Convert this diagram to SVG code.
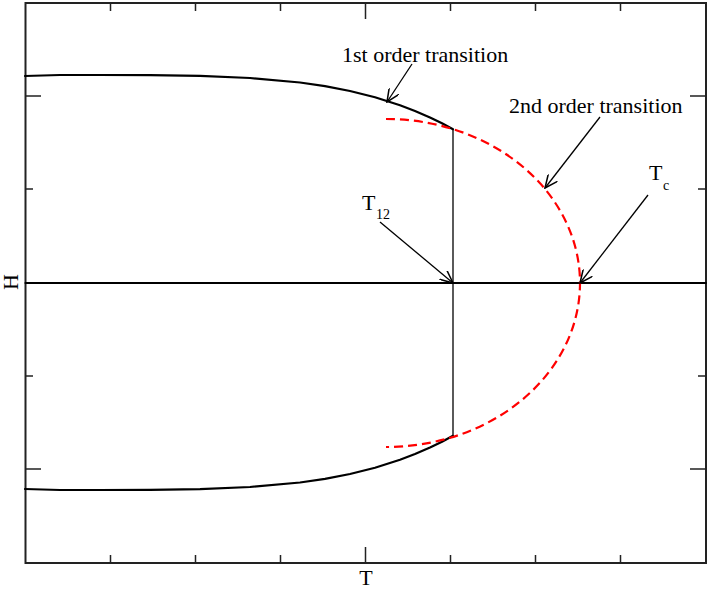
<svg xmlns="http://www.w3.org/2000/svg" width="708" height="589" viewBox="0 0 708 589">
<style>
.frame{fill:none;stroke:#222;stroke-width:2}
.tick{stroke:#222;stroke-width:1.5}
.curve{fill:none;stroke:#000;stroke-width:2.2;stroke-linejoin:round;stroke-linecap:round}
.thin{stroke:#000;stroke-width:1.3}
.red{fill:none;stroke:#f00;stroke-width:2.2;stroke-dasharray:9,5}
.arrow{stroke:#000;stroke-width:1.3;fill:none;marker-end:url(#ah)}
.lbl{font-family:"Liberation Serif","Times New Roman",serif;font-size:22px;fill:#000}
.sub{font-family:"Liberation Serif","Times New Roman",serif;font-size:14px;fill:#000}
</style>
<defs>
<marker id="ah" markerUnits="userSpaceOnUse" markerWidth="14" markerHeight="12" refX="11" refY="5" orient="auto" viewBox="0 0 12 10">
<path d="M0,0 L11,5 L0,10" fill="none" stroke="#000" stroke-width="1.3"/>
</marker>
</defs>
<rect x="0" y="0" width="708" height="589" fill="#fff"/>
<g id="axes">
<rect class="frame" x="25.5" y="3" width="680.5" height="560"/>
<path class="tick" d="M365.5,563V547M110.5,563V555M195.5,563V555M280.5,563V555M450.5,563V555M535.5,563V555M620.5,563V555
M365.5,3V19M110.5,3V11M195.5,3V11M280.5,3V11M450.5,3V11M535.5,3V11M620.5,3V11
M25.5,96H41M25.5,469H41M25.5,189H33M25.5,376H33
M706,96H690M706,469H690M706,189H698M706,376H698"/>
<text class="lbl" x="366" y="585" text-anchor="middle">T</text>
<text class="lbl" transform="translate(18,282) rotate(-90)" text-anchor="middle">H</text>
</g>
<g id="curves">
<polyline class="curve" points="25,76 60,75 100,75 150,75.1 200,75.9 250,78 300,82.5 325,86.2 350,91 375,97.3 400,105.3 415,111 430,117.4 442,123.2 453,129.2"/>
<polyline class="curve" points="25,489 60,490 100,490 150,489.9 200,489.1 250,487 300,482.5 325,478.8 350,474 375,467.7 400,459.7 415,454 430,447.6 442,441.8 453,435.8"/>
<line class="curve" x1="25.5" y1="283" x2="706" y2="283"/>
<line class="thin" x1="453" y1="129.2" x2="453" y2="435.8"/>
<path class="red" d="M386,119 A194,164 0 0 1 580,283 A194,164 0 0 1 386,447"/>
</g>
<g id="label-1st">
<text class="lbl" x="342" y="62">1st order transition</text>
</g>
<g id="label-2nd">
<text class="lbl" x="509" y="113">2nd order transition</text>
</g>
<g id="label-Tc">
<text class="lbl" x="649" y="180">T</text>
<text class="sub" x="663" y="190">c</text>
</g>
<g id="label-T12">
<text class="lbl" x="362" y="210">T</text>
<text class="sub" x="376" y="219">12</text>
</g>
<g id="connectors">
<line class="arrow" x1="412" y1="64" x2="387" y2="102"/>
<line class="arrow" x1="600" y1="117" x2="545" y2="188"/>
<line class="arrow" x1="648" y1="195" x2="580" y2="283"/>
<line class="arrow" x1="380" y1="222" x2="453" y2="283"/>
</g>
</svg>
